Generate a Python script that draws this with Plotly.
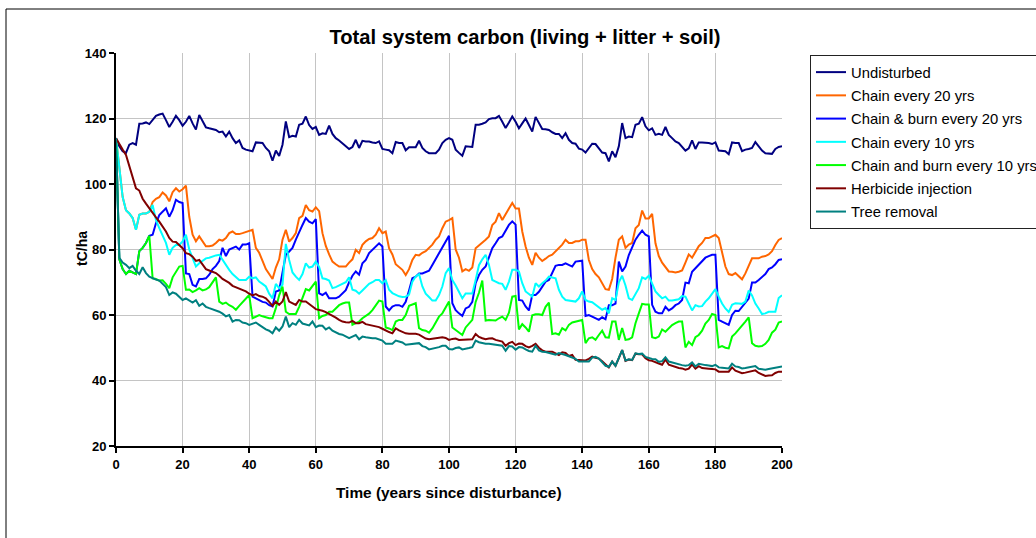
import plotly.graph_objects as go

years = list(range(0, 201))

undisturbed = [
    114, 111.5, 110, 109.5, 112, 112.5, 112, 118.4, 118.5, 118.8,
    118.3, 119.5, 120.8, 121.2, 121.5, 119.5, 117.4, 119, 120.8, 119.5,
    117.8, 119, 120.8, 118.5, 116.6, 121.1, 119, 117.3, 117, 116.8,
    116.5, 115.8, 116, 114.5, 116, 114, 112.5, 113.3, 111, 110.5,
    110.2, 110, 112.7, 112.6, 112.5, 111, 110, 107.1, 110.2, 108.6,
    112, 119.1, 114.3, 114.7, 114.5, 118.1, 118.4, 120.6, 118, 116.8,
    117.4, 115, 115.5, 115.3, 117.8, 115.3, 114, 113.3, 112.5, 111.5,
    110.7, 111.3, 113.5, 111, 113.2, 113, 113, 112.7, 112.5, 113,
    110.7, 110.5, 110.3, 109.4, 112.8, 112.5, 112.5, 110.3, 111.2, 111.2,
    111.2, 113.2, 111, 110, 109.4, 109.4, 109.4, 110.5, 112.5, 113.5,
    114, 113.5, 110.5, 109.5, 108.6, 111.5, 111.3, 111.3, 118.1, 118.1,
    118.4, 118.8, 119.8, 120.1, 120.1, 120.8, 119, 117.1, 118.8, 120.6,
    119, 117, 118.5, 120, 118, 116, 120.5, 118.5, 116.8, 116.7,
    116.5, 115.8, 115.3, 115.3, 114, 115.5, 113.5, 112.5, 112.3, 110.8,
    110.5, 109.6, 111, 112.3, 112.2, 111, 109.6, 109.4, 106.9, 110,
    108.2, 111.5, 118.6, 114, 114.5, 114.3, 118.1, 118.4, 120.4, 117.6,
    116.4, 117, 115, 115.3, 115, 117.4, 115, 114, 113, 112.5,
    111.5, 110.2, 110.9, 113.3, 110.7, 112.7, 112.7, 112.7, 112.5, 112.2,
    112.7, 110.2, 110, 110, 109.1, 112.7, 112.5, 112.5, 110, 110.5,
    110.7, 111, 112.8, 111.5, 110.2, 109.4, 109.3, 109.2, 110.7, 111.3,
    111.5,
]

chain_20 = [
    114, 104, 96, 92, 91, 89.6, 86, 90.6, 91, 91,
    91.5, 94.5, 95.5, 96, 97.4, 96.5, 94.7, 97.5, 98.7, 97.7,
    98.4, 99.5, 90, 84.5, 82.5, 84, 82.5, 81, 81, 81.2,
    82, 83, 82.7, 83.5, 85, 85.5, 84.7, 84.7, 85, 85.3,
    85.5, 86, 80.5, 79, 76.5, 74, 72.5, 71, 74.5, 77,
    83, 86, 82.4, 83.5, 85, 89.6, 90.3, 93.6, 92, 91.6,
    92.9, 91.7, 85, 81.1, 78.5, 76.3, 75.5, 74.8, 74.8, 74.8,
    76, 77, 79.9, 78.9, 81.4, 82.5, 83.2, 83.5, 84.5, 86.5,
    85, 85.5, 80.4, 78.5, 75.5, 74.5, 73.8, 72.2, 74, 76.8,
    78.4, 78.2, 79, 79.5, 80.5, 81.5, 83, 84, 86.5, 88.5,
    89, 89.6, 80, 77.5, 73.3, 74, 73.5, 74.5, 80.4, 81.2,
    82, 83, 84, 87.5, 88.5, 91.1, 89, 91, 92.5, 94.2,
    92.5, 92.5, 85.5, 80.9, 77.5, 75.3, 79, 77.5, 76.5, 77.2,
    78, 78.4, 79.5, 80.5, 81.5, 83, 82, 82, 82.5, 82.5,
    83, 83, 76.8, 74, 72.5, 71.5, 69.7, 67.9, 67.7, 71,
    77.5, 83, 84, 80.5, 81.5, 82, 86.5, 87.5, 91.9, 89.5,
    89.5, 90.9, 81.9, 78, 76, 74.5, 73.3, 73.2, 73, 73.2,
    73.6, 76, 78.5, 77.5, 79.5, 81, 82, 83.5, 83.5, 84,
    84.5, 83.5, 78.9, 74.8, 72.5, 72.2, 72.8, 71.8, 70.9, 72.7,
    74.8, 77.3, 77.3, 77.3, 77.8, 78, 78.5, 79.5, 81.4, 82.9,
    83.5,
]

chain_burn_20 = [
    114, 77, 74, 72.5, 73.5, 73, 72.5, 79.5, 80.5, 82,
    84.2, 84.5, 88, 90.5, 91.5, 92.6, 90, 92, 95.2, 94.5,
    94.2, 72.7, 72.5, 69.2, 68.7, 71, 71, 71.2, 72.3, 74,
    75, 76.5, 80.5, 78, 80, 80.4, 80.9, 80, 81.5, 81.5,
    81.9, 65.6, 65.1, 64.5, 64, 63.8, 63, 62.6, 67.2, 67.5,
    73, 78.4, 79.4, 80.5, 83, 85, 87.5, 89.6, 88.5, 88,
    89.3, 66.6, 66.1, 66.8, 65.1, 65.1, 65.1, 65.6, 66.6, 67.6,
    70, 72, 73.3, 72.3, 75.8, 76.8, 78.9, 80, 81, 81.9,
    80.9, 62.6, 61.4, 62.6, 63, 63, 62.5, 64, 67.5, 71.2,
    71.7, 72.7, 72.7, 73.2, 73.5, 75.3, 77, 78.9, 80.5, 82.5,
    84.2, 63.6, 61.5, 60.5, 59.7, 62, 62.5, 64, 69.7, 72.2,
    73.8, 74.8, 77.8, 80.4, 81.9, 83.5, 84, 86, 87.5, 88.6,
    87.6, 64.6, 64.4, 62.6, 61.4, 66.1, 66.1, 67.1, 68.7, 70.2,
    70.7, 72.7, 75, 75.3, 75.3, 75.8, 75.3, 74.8, 76.3, 76.5,
    76.6, 59.7, 60, 59.5, 59, 58.5, 59.3, 58.7, 63, 63,
    63.5, 76.3, 73.3, 74.8, 78.3, 80.5, 83, 84.5, 85.8, 84.5,
    84, 63.1, 61, 60.5, 60.5, 62.5, 61.4, 62, 63, 63.5,
    64.6, 69.9, 69.7, 73.2, 74.2, 75.2, 76.5, 77.5, 78, 78.4,
    78.4, 58.5, 58, 57.5, 57, 60, 61.3, 61.2, 62.5, 63.5,
    65, 69.9, 69.9, 70.7, 71.5, 72.5, 74, 74.5, 75.5, 76.8,
    77,
]

chain_10 = [
    114, 104, 96, 92, 91, 89.6, 86, 90.6, 91, 91,
    91.5, 93.6, 89, 86.5, 84.5, 82, 78.4, 80.5, 81.4, 81.4,
    82.5, 84.5, 80, 77.5, 74.8, 75.8, 76.5, 77.3, 77.5, 77.9,
    78.2, 78.4, 76.8, 75.5, 73.8, 72.5, 71.7, 70.7, 70.7, 70.7,
    71.7, 71.2, 71.5, 70.2, 69.5, 68.7, 66.5, 65.1, 69.5, 68.2,
    69.2, 81.7, 76.8, 73, 71.7, 70.7, 72.5, 75.8, 74.5, 74.8,
    76.3, 74.7, 71.2, 71, 70.5, 68.2, 68.5, 69, 69.5, 70,
    71.5, 67.7, 67.4, 66.5, 67.5, 68.5, 69.5, 70, 70.7, 70.7,
    69.7, 70.7, 67.7, 66.7, 66.2, 65.7, 65.5, 65.6, 66.2, 70.2,
    71.8, 72.5, 68.7, 66.5, 65.5, 64.4, 64.4, 66.1, 68.7, 72.8,
    74.3, 70.7, 69, 67.2, 65.1, 66.6, 66.6, 66.6, 70.7, 75.2,
    77, 78.4, 75.3, 70.7, 70.2, 69.7, 69.5, 67.7, 70.2, 73.8,
    73.8, 73.3, 69.7, 67.2, 66.4, 65.6, 69.7, 68.7, 69.7, 70.5,
    71.7, 71.5, 71.2, 67.7, 65.6, 64.6, 64.4, 64.1, 64.1, 65.1,
    67.2, 64.6, 64.1, 63.9, 63.1, 62.5, 61.6, 62.1, 60.5, 65.1,
    64.6, 70, 72, 69, 65.1, 64.6, 66.5, 68.2, 71.5, 71,
    72, 69.5, 67.2, 66.1, 65.1, 65.6, 64.4, 64.4, 64.6, 64.8,
    65.8, 65.6, 63.5, 61.4, 63, 62.6, 62.7, 64.1, 65.1, 66.5,
    67.9, 65.6, 63.5, 62, 60.9, 63.1, 63.6, 63.5, 63.4, 64.1,
    67.5, 66, 63.5, 62, 60.3, 60.5, 61, 61, 61, 65.2,
    66,
]

chain_burn_10 = [
    114, 77, 74, 72.5, 73.5, 73, 72.5, 79.5, 80.5, 82,
    84.2, 71.2, 71, 70.5, 70.6, 69.5, 68.2, 71.5, 73, 74.8,
    75, 67.7, 67.8, 67, 67.5, 68.2, 67.5, 67.8, 68.5, 70,
    71.5, 64.1, 63.4, 63.8, 63, 62.5, 61.6, 62.8, 64, 65,
    66.1, 59, 59.6, 60, 59.6, 59.3, 59, 59, 62.1, 66,
    68.7, 61, 60.3, 60.3, 60.3, 62.5, 65, 67.9, 67.5, 68.7,
    70.2, 59, 59.7, 60, 61, 61, 62, 63, 63.5, 63.8,
    63.8, 57, 57.5, 58, 59, 59.7, 60.4, 61.5, 63, 64.4,
    64.1, 56.2, 55.9, 55.4, 58, 58.5, 58.5, 60, 62.8, 63.3,
    63.6, 56, 55.4, 55.2, 54.6, 55.9, 57.5, 59.5, 60.5, 62.5,
    64.1, 56.2, 55.4, 54.5, 53.9, 56.2, 57.5, 58.5, 64, 66.8,
    70.5, 58.3, 58.5, 58.5, 58.3, 59, 59.5, 58.5, 60.7, 65.6,
    65.8, 55.6, 57.2, 56.2, 54.9, 59.9, 60.2, 60.2, 60, 62.5,
    63.8, 54.2, 54.4, 54, 56, 55.3, 57, 57.7, 58, 58.4,
    58.5, 51.4, 52.9, 53.2, 52.4, 53.9, 55.2, 53.2, 53.1, 58,
    58, 52.4, 56, 52.4, 52.6, 53.2, 57.5, 60.5, 63.4, 63.2,
    63.2, 53.2, 52.9, 53.4, 55.6, 54.9, 55.9, 56.9, 57.5, 58,
    58, 50.1, 51.8, 50.8, 53.2, 53.9, 55.2, 57.4, 58.5, 60.3,
    60, 50.1, 50.5, 50, 49.8, 53.4, 54.4, 55.6, 56.5, 58,
    59.3, 51.4, 50.6, 50.4, 50.5, 51.2, 52.4, 54.6, 55.5, 57.7,
    58,
]

herbicide = [
    114, 112, 110.5, 108.9, 105.5, 102, 98.7, 98, 95.5, 94,
    92.5, 91, 89.8, 88.5, 87, 85.5, 83.5, 82.4, 82.3, 81.4,
    80.4, 78.9, 78.6, 77.8, 76.5, 76.8, 75.5, 74, 73.6, 73.2,
    72.8, 72, 71, 70.4, 69.8, 68.9, 68.5, 68.2, 67.7, 67.2,
    66.5, 66, 66.4, 65.8, 65.6, 65.1, 64, 62.8, 64.1, 63.1,
    64.1, 67, 64.1, 63.6, 63.1, 64.6, 64.1, 64.1, 63.2, 62.6,
    61.8, 61.6, 61.3, 60.9, 60.4, 59.9, 59.2, 58.5, 58, 57.8,
    57.7, 58.2, 57.5, 57.5, 57.9, 57.2, 57, 56.8, 56.7, 56.3,
    55.8, 55.2, 54.8, 54.4, 55.9, 55.3, 54.8, 54.4, 54.3, 54.3,
    54.3, 54, 53.4, 52.8, 52.6, 52.7, 52.8, 52.9, 53.2, 53,
    52.4, 52.7, 52.8, 52.4, 52.4, 52.6, 52.4, 52.6, 54.2, 53.3,
    52.9, 52.6, 52.8, 52.9, 52.4, 52.2, 51.9, 50.6, 51.4, 51.8,
    50.8, 51.3, 51.2, 50.5, 50.1, 50.6, 51.2, 50, 49.2, 48.8,
    48.8, 48.8, 48.3, 47.8, 48.6, 48.4, 47.5, 47.8, 46.3, 46.2,
    46.1, 46.1, 46.6, 47.3, 46.9, 46.7, 45.9, 44.8, 44, 45.8,
    44.5, 46.8, 49.3, 46, 46.4, 46.2, 48.2, 48, 48, 46.8,
    46.2, 46, 45.5, 45.2, 44.8, 46.4, 44.8, 44.4, 44.2, 43.8,
    43.7, 43.3, 43.6, 44.9, 43.6, 44.4, 43.8, 43.6, 43.6, 43.5,
    43.4, 42.7, 42.6, 42.7, 42.7, 44, 43, 42.6, 42.2, 42.4,
    42.6, 43, 43.1, 42.3, 41.8, 41.4, 41.5, 41.6, 42.3, 42.7,
    42.7,
]

tree_removal = [
    114, 77.5, 76, 75.3, 74.3, 75, 73.5, 72.5, 74.6, 72.8,
    71.7, 71.2, 70.8, 70.5, 69.6, 68.5, 66.1, 66.9, 66.5, 65.6,
    64.6, 65.1, 64.5, 63.8, 64.5, 62.8, 63.5, 62.5, 62.1, 61.8,
    61.3, 61, 60.4, 59.6, 60, 58, 58.5, 58.4, 57.7, 57.5,
    57, 57.4, 57.7, 57, 56.3, 55.6, 55.2, 54.4, 56.2, 55.2,
    56.5, 59.5, 56.3, 57.5, 57, 58.5, 57.4, 57, 56.8, 58,
    56.3, 56.8, 56.7, 55.6, 56.2, 55.2, 54.6, 54.2, 54, 53.4,
    52.9, 53.4, 53.9, 52.6, 53.4, 53.2, 53, 52.9, 52.9, 52.5,
    52.2, 51.2, 51.2, 51.2, 52.2, 51.8, 51.6, 50.9, 51, 51.2,
    51.2, 51.4, 50.5, 50.2, 49.5, 49.7, 49.8, 50.2, 50.6, 50.6,
    49.6, 49.5, 49.9, 50.1, 49.5, 49.6, 49.9, 50.2, 52.2, 51.7,
    51.4, 51.2, 51.2, 51, 50.9, 50.7, 50.6, 49.1, 50.5, 50.4,
    49.4, 50.2, 50.1, 49.5, 49, 48.8, 50.6, 49.2, 48.8, 48.7,
    48.4, 48.2, 47.9, 48.4, 48.2, 47.8, 47.4, 47, 46.6, 45.8,
    45.8, 45.8, 45.8, 47, 47.2, 46.7, 45.7, 44.5, 44.2, 45.8,
    44.5, 46.8, 49.3, 46.1, 46.5, 46.3, 48.3, 48.1, 48.2, 47.2,
    46.8, 46.6, 46.5, 45.7, 45.9, 47.1, 45.8, 45.5, 45.1, 44.9,
    44.7, 44.5, 44.7, 45.5, 44.3, 45.1, 44.8, 44.7, 44.6, 44.4,
    44.8, 44, 43.9, 43.9, 43.7, 45.1, 44.3, 44.1, 43.7, 43.8,
    44, 44.3, 44.4, 43.6, 43.5, 43.3, 43.5, 43.7, 43.9, 44.2,
    44.3,
]

series = [
    ("Undisturbed", undisturbed, "#000080"),
    ("Chain every 20 yrs", chain_20, "#FF6600"),
    ("Chain & burn every 20 yrs", chain_burn_20, "#0000FF"),
    ("Chain every 10 yrs", chain_10, "#00FFFF"),
    ("Chain and burn every 10 yrs", chain_burn_10, "#00FF00"),
    ("Herbicide injection", herbicide, "#800000"),
    ("Tree removal", tree_removal, "#008080"),
]

FONT = "Liberation Sans, Arial, sans-serif"

fig = go.Figure()
for i, (name, vals, color) in enumerate(series):
    fig.add_trace(go.Scatter(
        x=years, y=vals, name=name, mode="lines",
        line=dict(color=color, width=2),
        legendgroup=f"g{i}",
    ))

# plot area geometry in pixels
W, H = 1036, 538
L, R, T, B = 116, 782, 53, 446
pw, ph = R - L, B - T


def px(x):
    return (x - L) / pw


def py(y):
    return 1 - (y - T) / ph


axis_common = dict(
    showgrid=True, gridcolor="#c4c4c4", gridwidth=1,
    showline=True, linecolor="black", linewidth=2,
    ticks="outside", ticklen=5, tickwidth=2, tickcolor="black",
    tickfont=dict(size=13, family=FONT, color="black", weight="bold"),
    zeroline=False,
)

fig.update_layout(
    width=W, height=H,
    margin=dict(l=L, r=W - R, t=T, b=H - B, autoexpand=False),
    paper_bgcolor="white", plot_bgcolor="white",
    font=dict(family=FONT, color="black"),
    title=dict(
        text="<b>Total system carbon (living + litter + soil)</b>",
        font=dict(size=20.2, family=FONT, color="black"),
        x=525 / W, xref="container", xanchor="center",
        y=1 - 37 / H, yref="container", yanchor="middle",
    ),
    showlegend=True,
    legend=dict(
        x=px(810), y=py(55), xanchor="left", yanchor="top",
        bgcolor="white", bordercolor="#222222", borderwidth=1,
        font=dict(size=14.8, family=FONT, color="black"),
        traceorder="grouped", tracegroupgap=1,
    ),
    xaxis=dict(range=[0, 200], tickvals=list(range(0, 201, 20)), **axis_common),
    yaxis=dict(range=[20, 140], tickvals=list(range(20, 141, 20)), **axis_common),
    annotations=[
        dict(text="<b>Time (years since disturbance)</b>", xref="paper", yref="paper",
             x=px(449), y=py(492), xanchor="center", yanchor="middle",
             showarrow=False, font=dict(size=15.4, family=FONT, color="black")),
        dict(text="<b>tC/ha</b>", xref="paper", yref="paper",
             x=px(82), y=py(249), xanchor="center", yanchor="middle",
             textangle=-90, showarrow=False,
             font=dict(size=14, family=FONT, color="black")),
    ],
    shapes=[dict(
        type="rect", xref="paper", yref="paper",
        x0=px(6), x1=px(1045), y0=py(545), y1=py(9),
        line=dict(color="black", width=1), fillcolor="rgba(0,0,0,0)",
        layer="below",
    )],
)

fig.write_html("out.html")
